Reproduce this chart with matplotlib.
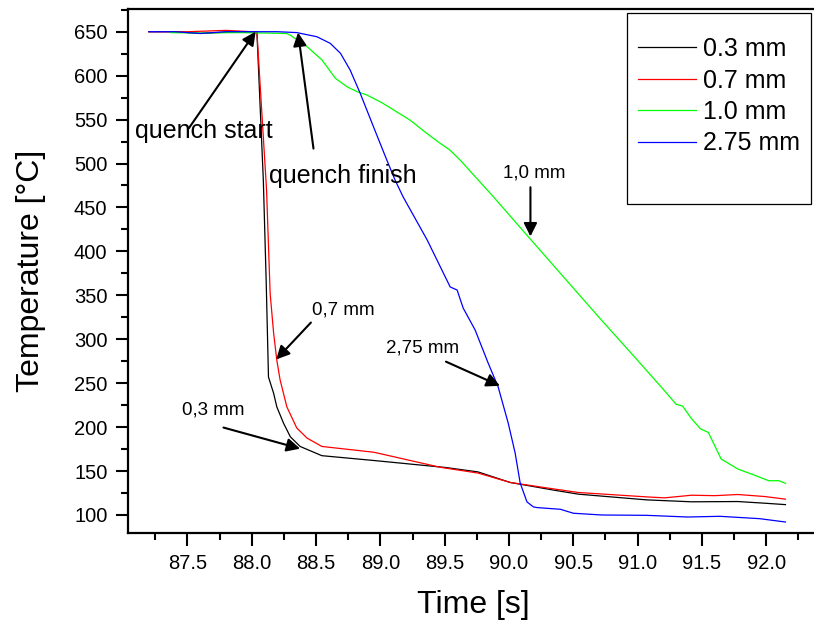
import matplotlib
matplotlib.use("Agg")
import matplotlib.pyplot as plt
from matplotlib.patches import Rectangle
from matplotlib.ticker import MultipleLocator

plt.rcParams["font.family"] = ["Liberation Sans", "DejaVu Sans"]

# thermocouple depth curves
t_03 = [87.2, 87.4, 87.6, 87.8, 88.0, 88.04, 88.09, 88.112, 88.13, 88.17, 88.195,
        88.247, 88.3, 88.376, 88.545, 88.95, 89.3, 89.51, 89.76, 90.01, 90.36,
        90.54, 91.07, 91.42, 91.78, 91.99, 92.15]
T_03 = [650, 650, 648, 649.5, 650, 650, 481, 367, 257, 238.5, 223,
        204.5, 189, 178, 167.5, 162, 157, 154, 149, 137, 128,
        123.7, 117.2, 115, 115.3, 113.4, 111.8]

t_07 = [87.2, 87.5, 87.8, 88.0, 88.04, 88.115, 88.143, 88.17, 88.195, 88.22,
        88.273, 88.35, 88.43, 88.545, 88.95, 89.465, 89.76, 90.01, 90.36, 90.54,
        91.07, 91.21, 91.42, 91.6, 91.78, 91.99, 92.15]
T_07 = [650, 650, 651.5, 650, 650, 470, 352, 307, 276, 254,
        223, 199, 187.5, 178, 171.4, 154.3, 147.7, 137, 129.4, 125.6,
        120.6, 119.5, 122.5, 122, 123.3, 121, 118]

t_10 = [87.37, 87.6, 87.9, 88.1, 88.27, 88.3, 88.43, 88.545, 88.65, 88.74, 88.82,
        88.895, 89.02, 89.23, 89.36, 89.465, 89.54, 89.62, 89.88, 90.16, 90.4,
        90.7, 91.0, 91.2, 91.3, 91.35, 91.42, 91.49, 91.55, 91.65, 91.78, 91.92,
        92.02, 92.1, 92.15]
T_10 = [649, 648.5, 649, 648.5, 648, 646, 633, 618, 597, 587.4, 581.7,
        578, 568.5, 549.5, 534.4, 523, 515.4, 504, 462, 415, 375,
        325, 276, 243, 226, 224, 209.5, 198, 194, 163.7, 152.3, 144.7,
        139, 139, 136]

t_275 = [87.2, 87.4, 87.6, 87.8, 88.0, 88.2, 88.35, 88.506, 88.61, 88.69, 88.765,
         88.843, 88.946, 89.05, 89.115, 89.177, 89.364, 89.543, 89.597, 89.644,
         89.737, 89.838, 89.916, 89.994, 90.048, 90.087, 90.14, 90.19, 90.22,
         90.4, 90.5, 90.72, 91.07, 91.39, 91.64, 91.95, 92.15]
T_275 = [650, 650, 648, 650, 650, 650, 649, 644.3, 636.8, 625.4, 606.4,
         580, 542, 504, 481, 462, 413, 359.5, 356, 335.5,
         310.5, 273, 245.7, 204.7, 170.6, 136.5, 114.9, 109.2, 108.4,
         106.5, 102, 100, 99.6, 97.7, 98.5, 95.8, 92]

W, H = 814, 625
fig = plt.figure(figsize=(W / 100, H / 100), dpi=100)
ax = fig.add_axes([128.3 / W, 1 - 533 / H, (817.6 - 128.3) / W, (533 - 9.3) / H])

ax.plot(t_03, T_03, color="black", lw=0.9, label="0.3 mm")
ax.plot(t_07, T_07, color="#ff0000", lw=0.9, label="0.7 mm")
ax.plot(t_10, T_10, color="#00ff00", lw=0.9, label="1.0 mm")
ax.plot(t_275, T_275, color="#0000ff", lw=0.9, label="2.75 mm")

ax.set_xlim(87.04, 92.4)
ax.set_ylim(79.5, 675.5)
ax.xaxis.set_major_locator(MultipleLocator(0.5))
ax.xaxis.set_minor_locator(MultipleLocator(0.25))
ax.yaxis.set_major_locator(MultipleLocator(50))
ax.yaxis.set_minor_locator(MultipleLocator(25))
ax.set_xticks([87.5 + 0.5 * i for i in range(10)])
ax.set_xticklabels(["%.1f" % (87.5 + 0.5 * i) for i in range(10)])
ax.set_yticks(range(100, 651, 50))

ax.tick_params(which="major", direction="out", length=9, width=1.5, labelsize=14.5, pad=6)
ax.tick_params(which="minor", direction="out", length=5, width=1.5)
ax.tick_params(top=False, right=False, which="both")
for s in ax.spines.values():
    s.set_linewidth(1.6)

ax.set_xlabel("Time [s]", fontsize=23, labelpad=12)
ax.set_ylabel("Temperature [°C]", fontsize=23, labelpad=20)

arrow = dict(arrowstyle="-|>", color="black", lw=1.5, mutation_scale=20,
             shrinkA=0, shrinkB=0)

ax.annotate("", xy=(88.03, 650), xytext=(87.51, 540), arrowprops=arrow)
ax.text(87.625, 537, "quench start", fontsize=18, ha="center", va="center")
ax.annotate("", xy=(88.36, 649), xytext=(88.48, 517), arrowprops=arrow)
ax.text(88.71, 486, "quench finish", fontsize=18, ha="center", va="center")

ax.annotate("", xy=(90.167, 417), xytext=(90.167, 473), arrowprops=arrow)
ax.text(90.2, 489, "1,0 mm", fontsize=13.5, ha="center", va="center")

ax.annotate("", xy=(88.19, 277), xytext=(88.46, 319), arrowprops=arrow)
ax.text(88.47, 333, "0,7 mm", fontsize=13.5, ha="left", va="center")

ax.annotate("", xy=(89.93, 247), xytext=(89.51, 274.5), arrowprops=arrow)
ax.text(89.33, 290, "2,75 mm", fontsize=13.5, ha="center", va="center")

ax.annotate("", xy=(88.376, 175.5), xytext=(87.78, 199.5), arrowprops=arrow)
ax.text(87.70, 219.5, "0,3 mm", fontsize=13.5, ha="center", va="center")

# legend box is taller than its entries, so draw the frame separately
fig.patches.append(Rectangle((626.7 / W, 1 - 204 / H), (811.3 - 626.7) / W,
                             (204 - 12.7) / H, transform=fig.transFigure,
                             fill=False, edgecolor="black", lw=0.9, zorder=5))
fig.legend(loc="upper left", bbox_to_anchor=(638 / W, 1 - 37 / H), frameon=False,
           fontsize=18, handlelength=2.3, handletextpad=0.3, labelspacing=0.3,
           borderpad=0, borderaxespad=0)

fig.savefig("out.png", dpi=100)
